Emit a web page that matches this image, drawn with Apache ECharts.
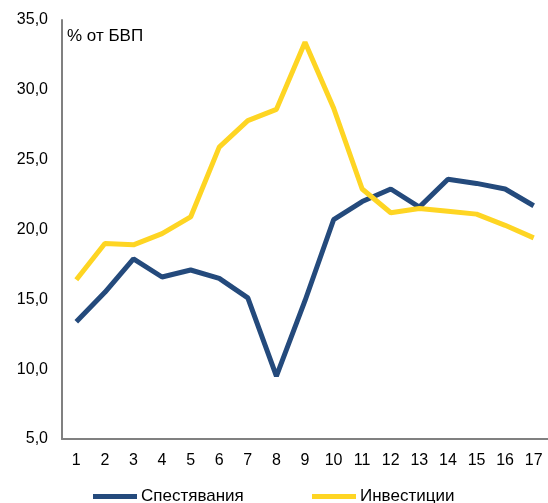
<!DOCTYPE html>
<html>
<head>
<meta charset="utf-8">
<script src="https://cdn.jsdelivr.net/npm/echarts@6/dist/echarts.min.js"></script>
<style>
  html, body { margin: 0; padding: 0; background: #fff; }
  #chart { width: 548px; height: 503px; }
</style>
</head>
<body>
<div id="chart"></div>
<script>
// ===== Data =====
const categories = ['1','2','3','4','5','6','7','8','9','10','11','12','13','14','15','16','17'];
const savings = [13.4, 15.5, 17.9, 16.6, 17.1, 16.5, 15.1, 9.5, 14.9, 20.7, 22.0, 22.9, 21.6, 23.6, 23.3, 22.9, 21.7];
const investments = [16.4, 19.0, 18.9, 19.7, 20.9, 25.9, 27.8, 28.6, 33.4, 28.7, 22.9, 21.2, 21.5, 21.3, 21.1, 20.3, 19.4];
const seriesNames = ['Спестявания', 'Инвестиции'];

const font = 'Liberation Sans, Arial, sans-serif';
const axisGray = '#808080';

// one legend per item so each can sit where the original puts it
const legendBase = {
  bottom: -7, icon: 'rect', itemWidth: 44, itemHeight: 5,
  textStyle: { fontFamily: font, fontSize: 17, color: '#000', padding: [0, 0, 0, -1] }
};

const chart = echarts.init(document.getElementById('chart'));
chart.setOption({
  animation: false,
  title: {
    text: '% от БВП', left: 62, top: 23,
    textStyle: { fontFamily: font, fontSize: 17, fontWeight: 'normal', color: '#000' }
  },
  legend: [
    Object.assign({ data: [seriesNames[0]], left: 88 }, legendBase),
    Object.assign({ data: [seriesNames[1]], left: 307 }, legendBase)
  ],
  grid: { left: 62, top: 20, width: 489, bottom: 64 },
  xAxis: {
    type: 'category', data: categories, boundaryGap: true,
    axisLine: { lineStyle: { color: axisGray, width: 2 } },
    axisTick: { show: false },
    axisLabel: { fontFamily: font, fontSize: 16, color: '#000', margin: 14 }
  },
  yAxis: {
    type: 'value', min: 5, max: 35, interval: 5,
    splitLine: { show: false },
    axisLine: { show: true, lineStyle: { color: axisGray, width: 2 } },
    axisTick: { show: false },
    axisLabel: { fontFamily: font, fontSize: 16, color: '#000', margin: 14,
      formatter: v => v.toFixed(1).replace('.', ',') }
  },
  series: [
    { name: seriesNames[0], type: 'line', data: savings, symbol: 'none',
      lineStyle: { color: '#244a7c', width: 5 }, itemStyle: { color: '#244a7c' } },
    { name: seriesNames[1], type: 'line', data: investments, symbol: 'none',
      lineStyle: { color: '#fed523', width: 5 }, itemStyle: { color: '#fed523' } }
  ]
});
</script>
</body>
</html>
